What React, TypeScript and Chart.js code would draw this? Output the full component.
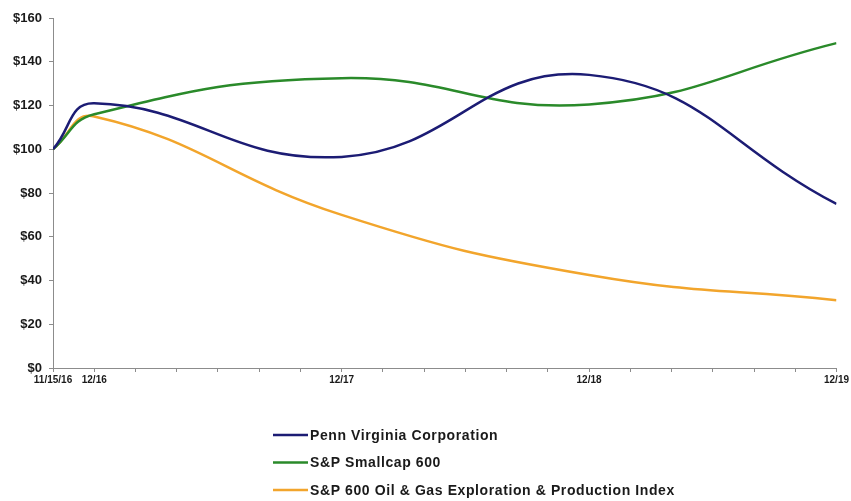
import React, { useEffect, useRef } from "react";
import { Chart, registerables } from "chart.js";

Chart.register(...registerables);

// x positions in 2-month steps: 11/15/16, 12/16, 12/17, 12/18, 12/19
const periodLabels = ["11/15/16", "12/16", "12/17", "12/18", "12/19"];
const periodPos = [0, 1, 7, 13, 19];

const pennVirginia = [100, 121, 96.5, 134, 75];
const spSmallcap = [100, 116, 132.5, 120.5, 148.5];
const spOilGas = [100, 115, 70, 42.5, 31];

const seriesNames = [
  "Penn Virginia Corporation",
  "S&P Smallcap 600",
  "S&P 600 Oil & Gas Exploration & Production Index",
];
const seriesColors = ["#1c1c74", "#2a8a2a", "#f2a52c"];

const yTicks = [0, 20, 40, 60, 80, 100, 120, 140, 160];

const FONT = "'Liberation Sans', Arial, sans-serif";

export default function App() {
  const ref = useRef<HTMLCanvasElement | null>(null);

  useEffect(() => {
    if (!ref.current) return;
    const all = [pennVirginia, spSmallcap, spOilGas];
    const legendPlugin = {
      id: "vertLegend",
      afterDraw(chart: any) {
        const ctx = chart.ctx as CanvasRenderingContext2D;
        ctx.save();
        chart.data.datasets.forEach((ds: any, i: number) => {
          const y = 435 + i * 27.5;
          ctx.strokeStyle = ds.borderColor;
          ctx.lineWidth = 2.5;
          ctx.beginPath();
          ctx.moveTo(273, y);
          ctx.lineTo(308, y);
          ctx.stroke();
          ctx.fillStyle = "#1a1a1a";
          ctx.font = `bold 14px ${FONT}`;
          (ctx as any).letterSpacing = "0.6px";
          ctx.textBaseline = "middle";
          ctx.textAlign = "left";
          ctx.fillText(ds.label, 310, y + 1);
        });
        ctx.restore();
      },
    };

    const chart = new Chart(ref.current, {
      type: "line",
      data: {
        datasets: all.map((vals, i) => ({
          label: seriesNames[i],
          data: vals.map((v, j) => ({ x: periodPos[j], y: v })),
          borderColor: seriesColors[i],
          backgroundColor: seriesColors[i],
          borderWidth: 2.5,
          pointRadius: 0,
          tension: 0.45,
          fill: false,
        })),
      },
      options: {
        responsive: false,
        animation: false,
        layout: { padding: { top: 18, right: 13, bottom: 113, left: 0 } },
        plugins: {
          legend: { display: false },
          tooltip: { enabled: false },
        },
        scales: {
          x: {
            type: "linear",
            min: 0,
            max: 19,
            afterFit: (s: any) => {
              s.height = 20;
            },
            afterBuildTicks: (s: any) => {
              const t = [];
              for (let v = 0; v <= 19; v++) t.push({ value: v });
              s.ticks = t;
            },
            ticks: {
              autoSkip: false,
              maxRotation: 0,
              padding: 2,
              color: "#1a1a1a",
              font: { family: FONT, size: 10, weight: "bold" },
              callback: (v: any) => {
                const k = periodPos.indexOf(Number(v));
                return k >= 0 ? periodLabels[k] : "";
              },
            },
            grid: {
              display: true,
              drawOnChartArea: false,
              drawTicks: true,
              tickLength: 4,
              color: "#8c8c8c",
            },
            border: { display: true, color: "#8c8c8c", width: 1 },
          },
          y: {
            min: 0,
            max: 160,
            afterFit: (s: any) => {
              s.width = 53;
            },
            afterBuildTicks: (s: any) => {
              s.ticks = yTicks.map((v) => ({ value: v }));
            },
            ticks: {
              padding: 7,
              color: "#1a1a1a",
              font: { family: FONT, size: 13, weight: "bold" },
              callback: (v: any) => "$" + v,
            },
            grid: {
              display: true,
              drawOnChartArea: false,
              drawTicks: true,
              tickLength: 4,
              color: "#8c8c8c",
            },
            border: { display: true, color: "#8c8c8c", width: 1 },
          },
        },
      },
      plugins: [legendPlugin],
    } as any);
    return () => chart.destroy();
  }, []);

  return (
    <div style={{ position: "absolute", left: 0, top: 0, width: 851, height: 501, background: "#fff" }}>
      <canvas ref={ref} width={851} height={501} />
    </div>
  );
}
